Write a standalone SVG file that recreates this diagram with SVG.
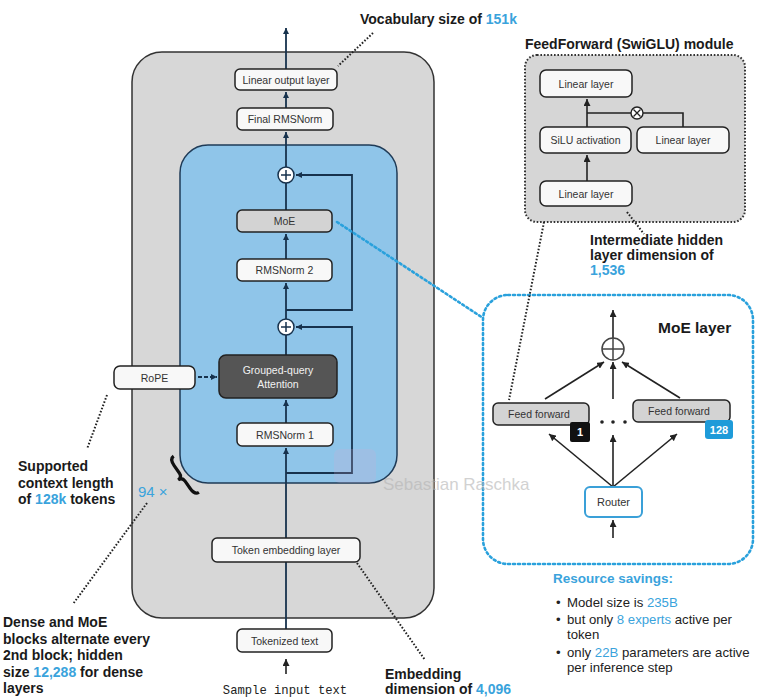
<svg xmlns="http://www.w3.org/2000/svg" width="768" height="697" viewBox="0 0 768 697">
  <defs>
    <style>
      .box { fill: #f8f8f8; stroke: #222; stroke-width: 1.5; }
      .gbox { fill: #d3d3d3; stroke: #222; stroke-width: 1.5; }
      .lbl { font-family: "Liberation Sans", Arial, sans-serif; font-size: 10.5px; fill: #333; text-anchor: middle; dominant-baseline: central; }
      .note { font-family: "Liberation Sans", Arial, sans-serif; font-weight: bold; font-size: 14px; fill: #1a1a1a; }
      .body { font-family: "Liberation Sans", Arial, sans-serif; font-size: 13.2px; fill: #222; }
      .hl { fill: #3aa3dc; }
      .wire { fill: none; stroke: #17324d; stroke-width: 1.8; }
      .wire-k { fill: none; stroke: #222; stroke-width: 1.6; }
      .dots { fill: none; stroke: #222; stroke-width: 2; stroke-dasharray: 1.6 1.8; }
      .bdots { fill: none; stroke: #2aa1dc; stroke-width: 2.6; stroke-dasharray: 2 3; stroke-linecap: round; }
      .sum { fill: #fff; stroke: #17324d; stroke-width: 1.5; }
    </style>
    <marker id="ahn" viewBox="0 0 8 8" refX="8" refY="4" markerWidth="6" markerHeight="6" orient="auto" markerUnits="userSpaceOnUse">
      <path d="M0,0 L8,4 L0,8 z" fill="#17324d"/>
    </marker>
    <marker id="ahk" viewBox="0 0 8 8" refX="8" refY="4" markerWidth="7" markerHeight="7" orient="auto" markerUnits="userSpaceOnUse">
      <path d="M0,0 L8,4 L0,8 z" fill="#222"/>
    </marker>
  </defs>

  <rect width="768" height="697" fill="#fff"/>

  <!-- containers -->
  <g id="model-frame">
    <rect x="132" y="52" width="302" height="566" rx="30" fill="#d7d7d7" stroke="#333" stroke-width="1.5"/>
  </g>
  <g id="transformer-block">
    <rect x="180" y="145" width="217" height="338" rx="28" fill="#8fc5e9" stroke="#1f3b57" stroke-width="1.5"/>
  </g>
  <g id="ff-module">
    <rect x="525" y="55" width="220" height="167" rx="12" fill="#d6d6d6" stroke="#333" stroke-width="2" stroke-dasharray="1.6 1.8"/>
    <text class="note" x="525" y="49">FeedForward (SwiGLU) module</text>
  </g>
  <g id="moe-layer">
    <rect x="483" y="295" width="270" height="269" rx="25" fill="#fff" stroke="#2aa1dc" stroke-width="2.6" stroke-dasharray="2 3" stroke-linecap="round"/>
    <text class="note" x="658" y="333" style="font-size:15.5px">MoE layer</text>
  </g>

  <!-- connectors -->
  <g id="connectors">
    <path class="wire" d="M286,629 V448" marker-end="url(#ahn)"/>
    <path class="wire" d="M286,423 V400" marker-end="url(#ahn)"/>
    <path class="wire" d="M286,355 V335"/>
    <path class="wire" d="M286,319 V283" marker-end="url(#ahn)"/>
    <path class="wire" d="M286,259 V234" marker-end="url(#ahn)"/>
    <path class="wire" d="M286,210 V183"/>
    <path class="wire" d="M286,167 V132" marker-end="url(#ahn)"/>
    <path class="wire" d="M286,108 V92" marker-end="url(#ahn)"/>
    <path class="wire" d="M286,69 V28" marker-end="url(#ahn)"/>
    <path class="wire" d="M286,310 H352 V175 H296" marker-end="url(#ahn)"/>
    <path class="wire" d="M286,473 H352 V327 H296" marker-end="url(#ahn)"/>
    <path class="wire" d="M198,377 H217" stroke-dasharray="4 2" marker-end="url(#ahn)"/>
    <path class="wire-k" d="M286,674 V659" marker-end="url(#ahk)"/>

    <!-- feed-forward module wiring -->
    <path class="wire-k" d="M587,181 V155" marker-end="url(#ahk)"/>
    <path class="wire-k" d="M587,127 V99" marker-end="url(#ahk)"/>
    <path class="wire-k" d="M587,113 H631 M643,113 H683 V127"/>

    <!-- MoE layer wiring -->
    <path class="wire-k" d="M613,338 V310" marker-end="url(#ahk)"/>
    <path class="wire-k" d="M545,399 L604,362" marker-end="url(#ahk)"/>
    <path class="wire-k" d="M613,399 V362" marker-end="url(#ahk)"/>
    <path class="wire-k" d="M680,398 L622,362" marker-end="url(#ahk)"/>
    <path class="wire-k" d="M613,487 L549,434" marker-end="url(#ahk)"/>
    <path class="wire-k" d="M613,487 V435" marker-end="url(#ahk)"/>
    <path class="wire-k" d="M613,487 L677,434" marker-end="url(#ahk)"/>
    <path class="wire-k" d="M613,538 V520" marker-end="url(#ahk)"/>

    <!-- annotation leaders -->
    <path class="dots" d="M373,33 L338,66"/>
    <path class="dots" d="M107,395 L87,449"/>
    <path class="dots" d="M147,503 L73,604"/>
    <path class="dots" d="M357,563 L425,660"/>
    <path class="dots" d="M627,212 L644,234"/>
    <path class="dots" d="M544,222 L509,400"/>
    <path class="bdots" d="M337,222 L483,318"/>
  </g>

  <!-- main stack nodes -->
  <g id="linear-output">
    <rect class="box" x="235" y="69" width="102" height="21" rx="5"/>
    <text class="lbl" x="286" y="79.5">Linear output layer</text>
  </g>
  <g id="final-rmsnorm">
    <rect class="box" x="237" y="108" width="96" height="22" rx="5"/>
    <text class="lbl" x="285" y="119">Final RMSNorm</text>
  </g>
  <g id="add-2">
    <circle class="sum" cx="286" cy="175" r="8"/>
    <path d="M281,175 H291 M286,170 V180" stroke="#17324d" stroke-width="1.5"/>
  </g>
  <g id="moe">
    <rect class="gbox" x="237" y="210" width="95" height="22" rx="5"/>
    <text class="lbl" x="284.5" y="221">MoE</text>
  </g>
  <g id="rmsnorm-2">
    <rect class="box" x="237" y="259" width="95" height="22" rx="5"/>
    <text class="lbl" x="284.5" y="270">RMSNorm 2</text>
  </g>
  <g id="add-1">
    <circle class="sum" cx="286" cy="327" r="8"/>
    <path d="M281,327 H291 M286,322 V332" stroke="#17324d" stroke-width="1.5"/>
  </g>
  <g id="gqa">
    <rect x="219" y="355" width="118" height="43" rx="7" fill="#555" stroke="#222" stroke-width="1.5"/>
    <text class="lbl" x="278" y="370" style="fill:#f2f2f2">Grouped-query</text>
    <text class="lbl" x="278" y="384" style="fill:#f2f2f2">Attention</text>
  </g>
  <g id="rmsnorm-1">
    <rect class="box" x="237" y="423" width="96" height="23" rx="5"/>
    <text class="lbl" x="285" y="434.5">RMSNorm 1</text>
  </g>
  <g id="rope">
    <rect class="box" x="114" y="366" width="81" height="23" rx="6"/>
    <text class="lbl" x="154.5" y="377.5">RoPE</text>
  </g>
  <g id="token-embedding">
    <rect class="box" x="212" y="538" width="148" height="24" rx="5"/>
    <text class="lbl" x="286" y="550">Token embedding layer</text>
  </g>
  <g id="tokenized-text">
    <rect class="box" x="237" y="629" width="95" height="23" rx="5"/>
    <text class="lbl" x="284.5" y="640.5">Tokenized text</text>
  </g>
  <g id="sample-input">
    <text x="285" y="694" font-family="Liberation Mono, Courier New, monospace" font-size="12.2" fill="#222" text-anchor="middle">Sample input text</text>
  </g>

  <!-- repetition brace -->
  <g id="repeat-brace">
    <path d="M4,-22 Q-1,-22 -1,-14 L-1,-5 Q-1,0 -6,0 Q-1,0 -1,5 L-1,14 Q-1,22 4,22" transform="translate(183,476.5) rotate(-35)" fill="none" stroke="#111" stroke-width="3.2"/>
    <text x="138" y="497" font-family="Liberation Sans, Arial, sans-serif" font-size="15" class="hl">94 ×</text>
  </g>

  <!-- feed-forward module nodes -->
  <g id="ff-linear-top">
    <rect class="box" x="540" y="70" width="92" height="27" rx="6"/>
    <text class="lbl" x="586" y="83.5">Linear layer</text>
  </g>
  <g id="ff-silu">
    <rect class="box" x="540" y="127" width="91" height="26" rx="6"/>
    <text class="lbl" x="585.5" y="140">SiLU activation</text>
  </g>
  <g id="ff-linear-right">
    <rect class="box" x="637" y="127" width="92" height="26" rx="6"/>
    <text class="lbl" x="683" y="140">Linear layer</text>
  </g>
  <g id="ff-linear-bottom">
    <rect class="box" x="540" y="181" width="92" height="25" rx="6"/>
    <text class="lbl" x="586" y="193.5">Linear layer</text>
  </g>
  <g id="ff-mul">
    <circle cx="637" cy="113" r="6" fill="#fff" stroke="#222" stroke-width="1.4"/>
    <path d="M633.5,109.5 L640.5,116.5 M640.5,109.5 L633.5,116.5" stroke="#222" stroke-width="1.3"/>
  </g>

  <!-- MoE layer nodes -->
  <g id="moe-sum">
    <circle cx="613" cy="349" r="11" fill="#fff" stroke="#444" stroke-width="1.5"/>
    <path d="M602,349 H624 M613,338 V360" stroke="#444" stroke-width="1.5"/>
  </g>
  <g id="expert-1">
    <rect class="gbox" x="493" y="403" width="96" height="22" rx="5"/>
    <text class="lbl" x="539" y="414">Feed forward</text>
    <rect x="570" y="422" width="20" height="20" rx="2" fill="#111"/>
    <text class="lbl" x="580" y="432" style="fill:#fff;font-weight:bold;font-size:11px">1</text>
  </g>
  <g id="expert-ellipsis">
    <circle cx="602" cy="422" r="1.8" fill="#222"/>
    <circle cx="613" cy="422" r="1.8" fill="#222"/>
    <circle cx="625" cy="422" r="1.8" fill="#222"/>
  </g>
  <g id="expert-128">
    <rect class="gbox" x="633" y="400" width="97" height="22" rx="5"/>
    <text class="lbl" x="679" y="411">Feed forward</text>
    <rect x="705" y="420" width="28" height="19" rx="3" fill="#1e9bd9"/>
    <text class="lbl" x="719" y="429.5" style="fill:#fff;font-weight:bold;font-size:11px">128</text>
  </g>
  <g id="router">
    <rect x="585" y="487" width="57" height="30" rx="5" fill="#fff" stroke="#3aa0d8" stroke-width="2"/>
    <text class="lbl" x="613.5" y="502" style="font-size:11px">Router</text>
  </g>

  <!-- annotations -->
  <g id="notes">
    <text class="note" x="360" y="24">Vocabulary size of <tspan class="hl">151k</tspan></text>
    <text class="note" x="18" y="471">Supported</text>
    <text class="note" x="18" y="488">context length</text>
    <text class="note" x="18" y="504">of <tspan class="hl">128k</tspan> tokens</text>
    <text class="note" x="3" y="627">Dense and MoE</text>
    <text class="note" x="3" y="643.5">blocks alternate every</text>
    <text class="note" x="3" y="660">2nd block; hidden</text>
    <text class="note" x="3" y="676.5">size <tspan class="hl">12,288</tspan> for dense</text>
    <text class="note" x="3" y="693">layers</text>
    <text class="note" x="385" y="679">Embedding</text>
    <text class="note" x="385" y="694">dimension of <tspan class="hl">4,096</tspan></text>
    <text class="note" x="590" y="245">Intermediate hidden</text>
    <text class="note" x="590" y="260">layer dimension of</text>
    <text class="note hl" x="590" y="275">1,536</text>
    <text class="note hl" x="553" y="583" style="font-size:13.5px">Resource savings:</text>
    <text class="body" x="556" y="607">•</text>
    <text class="body" x="567" y="607">Model size is <tspan class="hl">235B</tspan></text>
    <text class="body" x="556" y="624">•</text>
    <text class="body" x="567" y="624">but only <tspan class="hl">8 experts</tspan> active per</text>
    <text class="body" x="567" y="639">token</text>
    <text class="body" x="556" y="657">•</text>
    <text class="body" x="567" y="657">only <tspan class="hl">22B</tspan> parameters are active</text>
    <text class="body" x="567" y="672">per inference step</text>
  </g>

  <!-- author watermark, drawn over the artwork -->
  <g id="watermark">
    <rect x="334" y="449" width="42" height="34" rx="6" fill="#d7a9d4" opacity="0.2"/>
    <text x="383" y="490" font-family="Liberation Sans, Arial, sans-serif" font-size="17" fill="#b4b4b4" opacity="0.6">Sebastian Raschka</text>
  </g>
</svg>
